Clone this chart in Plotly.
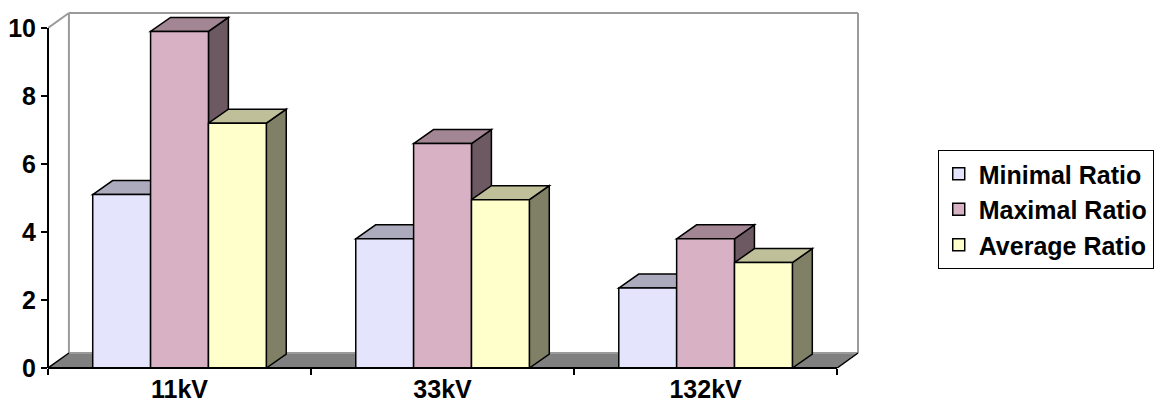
import plotly.graph_objects as go

# Ratios per voltage level
categories = ["11kV", "33kV", "132kV"]
minimal_ratio = [5.1, 3.8, 2.35]
maximal_ratio = [9.9, 6.6, 3.8]
average_ratio = [7.2, 4.95, 3.1]

series = [
    ("Minimal Ratio", minimal_ratio, (228, 228, 252)),
    ("Maximal Ratio", maximal_ratio, (216, 178, 196)),
    ("Average Ratio", average_ratio, (255, 255, 204)),
]

FONT = "Liberation Sans, Arial, sans-serif"
FONT_SIZE = 25

# plot-area geometry (pixels) used to express the 3-D depth in data units
L_MARGIN, R_MARGIN, T_MARGIN, B_MARGIN = 46, 298, 8, 44
FIG_W, FIG_H = 1162, 412
X_MIN, Y_MIN = -0.5, 0.0
PX_PER_X = 264.0
PX_PER_Y = 34.0
plot_w = FIG_W - L_MARGIN - R_MARGIN
plot_h = FIG_H - T_MARGIN - B_MARGIN
X_MAX = X_MIN + plot_w / PX_PER_X
Y_MAX = Y_MIN + plot_h / PX_PER_Y

BAR_W = 0.22
GROUP_START = -1.5 * BAR_W
DX, DY = 20 / PX_PER_X, 14 / PX_PER_Y      # bar depth
WX, WY = 21 / PX_PER_X, 15 / PX_PER_Y      # wall / floor depth
Y_TOP = 10
X_LEFT, X_RIGHT = -0.5, len(categories) - 0.5


def rgb(c, k=1.0):
    return "rgb(%d,%d,%d)" % tuple(round(v * k) for v in c)


def poly(points):
    return "M " + " L ".join(f"{x:.5f},{y:.5f}" for x, y in points) + " Z"


shapes = []
WALL = "#9a9a9a"

# floor
shapes.append(dict(type="path", layer="below", xref="x", yref="y",
                   path=poly([(X_LEFT, 0), (X_RIGHT, 0), (X_RIGHT + WX, WY), (X_LEFT + WX, WY)]),
                   fillcolor="#808080", line=dict(width=0)))
# back wall outline and top edge of the side wall
for (x0, y0, x1, y1) in [
    (X_LEFT + WX, WY, X_LEFT + WX, Y_TOP + WY),
    (X_LEFT + WX, Y_TOP + WY, X_RIGHT + WX, Y_TOP + WY),
    (X_RIGHT + WX, Y_TOP + WY, X_RIGHT + WX, WY),
    (X_LEFT + WX, WY, X_RIGHT + WX, WY),
    (X_LEFT, Y_TOP, X_LEFT + WX, Y_TOP + WY),
]:
    shapes.append(dict(type="line", layer="below", xref="x", yref="y",
                       x0=x0, y0=y0, x1=x1, y1=y1, line=dict(color=WALL, width=2)))
# floor side edges
for xs in (X_LEFT, X_RIGHT):
    shapes.append(dict(type="line", layer="below", xref="x", yref="y",
                       x0=xs, y0=0, x1=xs + WX, y1=WY, line=dict(color="black", width=1.5)))

# side and top faces of each column, painted left to right
for ci in range(len(categories)):
    for si, (name, vals, col) in enumerate(series):
        v = vals[ci]
        left = ci + GROUP_START + si * BAR_W
        right = left + BAR_W
        shapes.append(dict(type="path", layer="below", xref="x", yref="y",
                           path=poly([(right, 0), (right + DX, DY), (right + DX, v + DY), (right, v)]),
                           fillcolor=rgb(col, 0.5), line=dict(color="black", width=1.5)))
        shapes.append(dict(type="path", layer="below", xref="x", yref="y",
                           path=poly([(left, v), (left + DX, v + DY), (right + DX, v + DY), (right, v)]),
                           fillcolor=rgb(col, 0.75), line=dict(color="black", width=1.5)))

# axis lines
shapes.append(dict(type="line", layer="above", xref="paper", yref="y",
                   x0=0, x1=0, y0=0, y1=Y_TOP, line=dict(color="black", width=2)))
shapes.append(dict(type="line", layer="above", xref="x", yref="paper",
                   x0=X_LEFT, x1=X_RIGHT, y0=0, y1=0, line=dict(color="black", width=2)))

fig = go.Figure()
x_pos = list(range(len(categories)))
for si, (name, vals, col) in enumerate(series):
    fig.add_trace(go.Bar(
        x=x_pos, y=vals, name=name, width=BAR_W,
        offset=GROUP_START + si * BAR_W,
        marker=dict(color=rgb(col), line=dict(color="black", width=1.5)),
        legendgroup=name,
    ))

tick_font = dict(family=FONT, size=FONT_SIZE, color="black", weight="bold")

fig.update_layout(
    width=FIG_W, height=FIG_H,
    margin=dict(l=L_MARGIN, r=R_MARGIN, t=T_MARGIN, b=B_MARGIN, pad=0),
    paper_bgcolor="white", plot_bgcolor="white",
    barmode="overlay",
    shapes=shapes,
    font=tick_font,
    showlegend=True,
    legend=dict(
        x=(939 - L_MARGIN) / plot_w, y=(368 - 150) / plot_h,
        xanchor="left", yanchor="top",
        bordercolor="black", borderwidth=1, bgcolor="white",
        font=tick_font,
        tracegroupgap=3, traceorder="normal",
    ),
    xaxis=dict(
        range=[X_MIN, X_MAX], showgrid=False, zeroline=False, showline=False,
        tickmode="array", tickvals=x_pos, ticktext=categories, ticks="",
        ticklabelstandoff=4,
        tickfont=tick_font,
        minor=dict(tickmode="array", tickvals=[X_LEFT + k for k in range(len(categories) + 1)],
                   ticks="outside", ticklen=6, tickwidth=2, tickcolor="black", showgrid=False),
        fixedrange=True,
    ),
    yaxis=dict(
        range=[Y_MIN, Y_MAX], showgrid=False, zeroline=False, showline=False,
        tickmode="array", tickvals=[0, 2, 4, 6, 8, 10],
        ticks="outside", ticklen=6, tickwidth=2, tickcolor="black",
        tickfont=tick_font,
        fixedrange=True,
    ),
)

fig.write_html("out.html")
